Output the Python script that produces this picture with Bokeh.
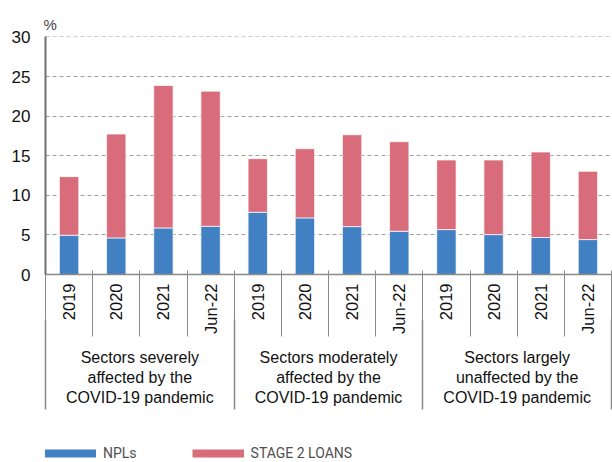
import math
from bokeh.plotting import figure
from bokeh.layouts import column
from bokeh.models import Range1d, FixedTicker, LinearAxis, Legend, LegendItem, ColumnDataSource
from bokeh.embed import file_html
from bokeh.resources import INLINE

# ---- data ----
groups = [
    "Sectors severely\naffected by the\nCOVID-19 pandemic",
    "Sectors moderately\naffected by the\nCOVID-19 pandemic",
    "Sectors largely\nunaffected by the\nCOVID-19 pandemic",
]
periods = ["2019", "2020", "2021", "Jun-22"]
npls = [4.96, 4.62, 5.88, 6.09, 7.86, 7.15, 6.05, 5.46, 5.67, 5.04, 4.67, 4.41]
stage2 = [7.40, 13.12, 17.99, 17.07, 6.77, 8.74, 11.60, 11.31, 8.79, 9.42, 10.80, 8.62]
series_names = ["NPLs", "STAGE 2 LOANS"]
y_ticks = [0, 5, 10, 15, 20, 25, 30]
unit = "%"

BLUE = "#4180C2"
RED = "#D96C7A"
GREY = "#8a8a8a"
FONT = "Liberation Sans"

n_per = len(periods)
n = len(groups) * n_per
labels = [periods[i % n_per] for i in range(n)]
xs = [i + 0.5 for i in range(n)]
bounds = list(range(n + 1))
gbounds = [g * n_per for g in range(len(groups) + 1)]
gcent = [g * n_per + n_per / 2 for g in range(len(groups))]
src = ColumnDataSource(dict(x=xs, npl=npls, stage2=stage2))

p = figure(width=612, height=420, x_range=Range1d(0, n), y_range=Range1d(0, 30.06),
           output_backend="svg", toolbar_location=None, title=unit,
           min_border_left=45, min_border_top=36, min_border_right=1, min_border_bottom=146)
p.outline_line_color = None
p.border_fill_color = "white"
p.title.text_font = FONT
p.title.text_font_size = "15px"
p.title.text_font_style = "normal"
p.title.text_color = "#444444"
p.title.align = "left"
p.title.offset = -2
p.title.standoff = 8

p.vbar_stack(["npl", "stage2"], x="x", width=0.41, source=src,
             fill_color=[BLUE, RED], line_color="white", line_alpha=0.7, line_width=1)

# y axis
yax = p.yaxis[0]
yax.ticker = FixedTicker(ticks=y_ticks)
yax.major_tick_out = 0
yax.major_tick_in = 0
yax.minor_tick_out = 0
yax.minor_tick_in = 0
yax.axis_line_color = "#6d6e71"
yax.axis_line_width = 2
yax.major_label_text_font = FONT
yax.major_label_text_font_size = "17px"
yax.major_label_text_color = "#111111"
yax.major_label_standoff = 15

p.xgrid.visible = False
p.ygrid.ticker = FixedTicker(ticks=y_ticks)
p.ygrid.grid_line_color = "#a0a0a0"
p.ygrid.grid_line_dash = "4 3"
p.ygrid.grid_line_width = 1


def bare_axis(ax):
    ax.major_tick_out = 0
    ax.major_tick_in = 0
    ax.minor_tick_out = 0
    ax.minor_tick_line_color = GREY
    ax.minor_tick_line_width = 1
    ax.major_label_text_font = FONT
    ax.major_label_text_color = "#111111"


# x axis A: period labels
xax = p.xaxis[0]
xax.ticker = FixedTicker(ticks=xs, minor_ticks=[])
bare_axis(xax)
xax.major_label_overrides = {x: l for x, l in zip(xs, labels)}
xax.major_label_orientation = math.pi / 2
xax.axis_line_color = GREY
xax.axis_line_width = 1.5
xax.major_label_text_font_size = "16.5px"
xax.major_label_standoff = 9

# axis B: separators between periods (no labels)
xb = LinearAxis(ticker=FixedTicker(ticks=[], minor_ticks=bounds))
bare_axis(xb)
xb.minor_tick_in = 66
xb.axis_line_color = None
xb.major_label_standoff = 0
p.add_layout(xb, "below")

# axis C: sector group labels
xc = LinearAxis(ticker=FixedTicker(ticks=gcent, minor_ticks=[]))
bare_axis(xc)
xc.major_label_overrides = {c: g for c, g in zip(gcent, groups)}
xc.axis_line_color = None
xc.major_label_text_font_size = "16px"
xc.major_label_standoff = 12
p.add_layout(xc, "below")

# axis D: separators between groups
xd = LinearAxis(ticker=FixedTicker(ticks=[], minor_ticks=gbounds))
bare_axis(xd)
xd.minor_tick_in = 90
xd.minor_tick_line_width = 1.5
xd.axis_line_color = None
xd.major_label_standoff = 0
p.add_layout(xd, "below")

# ---- legend strip (second figure) ----
q = figure(width=612, height=42, x_range=p.x_range, y_range=p.y_range,
           output_backend="svg", toolbar_location=None,
           x_axis_location=None, y_axis_location=None,
           min_border=0, min_border_left=0, min_border_right=0, min_border_top=0, min_border_bottom=0)
q.outline_line_color = None
q.xgrid.visible = False
q.ygrid.visible = False
r1 = q.line(x=xs, y=npls, line_color=BLUE, line_width=8, visible=False)
r2 = q.line(x=xs, y=stage2, line_color=RED, line_width=8, visible=False)
leg = Legend(items=[LegendItem(label=series_names[0], renderers=[r1]),
                    LegendItem(label=series_names[1], renderers=[r2])],
             orientation="horizontal", location=(-1, 0),
             glyph_width=52, glyph_height=18, label_height=18, label_standoff=7, spacing=55,
             padding=0, margin=0, border_line_color=None, background_fill_alpha=0,
             inactive_fill_alpha=0,
             label_text_font="Roboto", label_text_font_size="14px",
             label_text_color="#505050")
q.add_layout(leg, "center")

layout = column(p, q, spacing=0)
open("out.html", "w").write(file_html(layout, INLINE))
